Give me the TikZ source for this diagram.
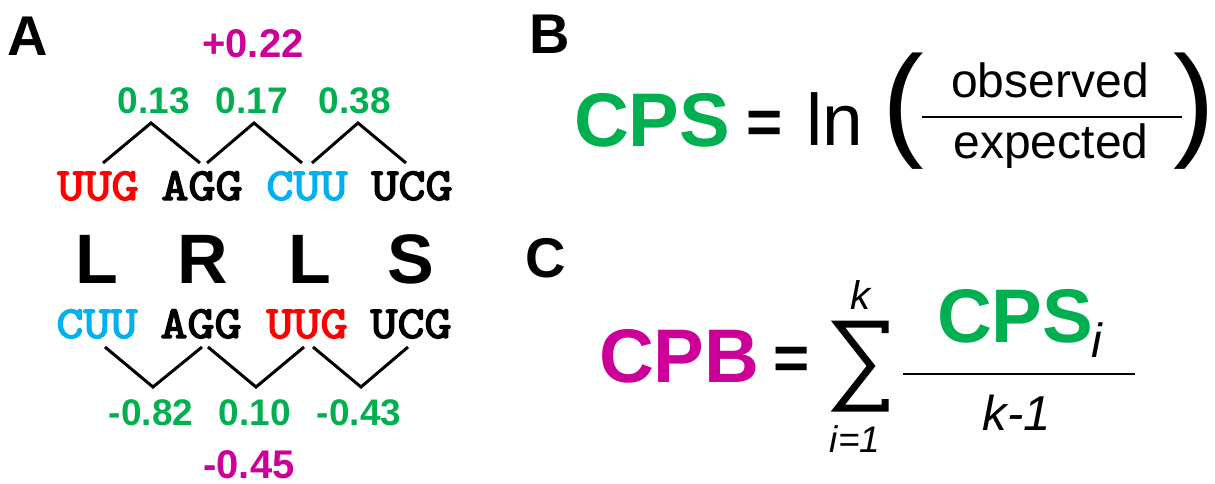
\documentclass[tikz,border=0pt]{standalone}
\usepackage{fontspec}
\setmainfont{Liberation Sans}
\newfontfamily\monof{lmmono10-regular.otf}[FakeBold=3]
\definecolor{cgreen}{RGB}{0,176,80}
\definecolor{cmag}{RGB}{204,0,153}
\definecolor{cred}{RGB}{255,0,0}
\definecolor{cblue}{RGB}{0,176,240}
\newcommand{\fs}[1]{\fontsize{#1}{#1}\selectfont}
\newcommand{\cod}[1]{\scalebox{1.12}[1]{#1}}
\tikzset{
  every node/.style={inner sep=0pt, outer sep=0pt, anchor=base},
  panellab/.style={font=\fs{56}\bfseries, anchor=base west},
  mag/.style={font=\fs{40}\bfseries, text=cmag},
  grn/.style={font=\fs{37}\bfseries, text=cgreen},
  codon/.style={font=\monof\fs{46}},
  aa/.style={font=\fs{70}\bfseries},
  link/.style={line width=3pt, line cap=butt, line join=miter},
  bigbold/.style={font=\fs{76}\bfseries},
  eqsign/.style={font=\fs{62}\bfseries},
  reg/.style={font=\fs{48}},
  paren/.style={font=\fs{125}},
  frac/.style={line width=2pt},
}
\begin{document}
\begin{tikzpicture}[x=1pt,y=-1pt]
\useasboundingbox (0,0) rectangle (1215,483);
% ---------- Panel A ----------
\node[panellab] (A) at (8,55) {A};
\node[mag] (top) at (253,57) {+0.22};
\node[grn] (g1) at (154,113) {0.13};
\node[grn] (g2) at (252,113) {0.17};
\node[grn] (g3) at (355,113) {0.38};
\coordinate (t1a) at (103,163); \coordinate (t1p) at (151,123); \coordinate (t1b) at (200,163);
\coordinate (t2a) at (207,163); \coordinate (t2p) at (254,123); \coordinate (t2b) at (302,163);
\coordinate (t3a) at (312,163); \coordinate (t3p) at (358,123); \coordinate (t3b) at (406,163);
\draw[link] (t1a) -- (t1p) -- (t1b);
\draw[link] (t2a) -- (t2p) -- (t2b);
\draw[link] (t3a) -- (t3p) -- (t3b);
\node[codon, text=cred] (c1) at (98,200) {\cod{UUG}};
\node[codon] (c2) at (202,200) {\cod{AGG}};
\node[codon, text=cblue] (c3) at (307,200) {\cod{CUU}};
\node[codon] (c4) at (412,200) {\cod{UCG}};
\node[aa] (a1) at (97,283) {L};
\node[aa] (a2) at (203,283) {R};
\node[aa] (a3) at (310,283) {L};
\node[aa] (a4) at (411,283) {S};
\node[codon, text=cblue] (d1) at (97,338) {\cod{CUU}};
\node[codon] (d2) at (201,338) {\cod{AGG}};
\node[codon, text=cred] (d3) at (307,338) {\cod{UUG}};
\node[codon] (d4) at (411,338) {\cod{UCG}};
\coordinate (b1a) at (105,347); \coordinate (b1p) at (153,387); \coordinate (b1b) at (202,347);
\coordinate (b2a) at (208,347); \coordinate (b2p) at (256,387); \coordinate (b2b) at (304,347);
\coordinate (b3a) at (313,347); \coordinate (b3p) at (361,387); \coordinate (b3b) at (408,347);
\draw[link] (b1a) -- (b1p) -- (b1b);
\draw[link] (b2a) -- (b2p) -- (b2b);
\draw[link] (b3a) -- (b3p) -- (b3b);
\node[grn] (h1) at (151,425) {-0.82};
\node[grn] (h2) at (255,425) {0.10};
\node[grn] (h3) at (359,425) {-0.43};
\node[mag] (bot) at (249,478) {-0.45};
% ---------- Panel B ----------
\node[panellab] (B) at (529,53) {B};
\node[bigbold, text=cgreen, anchor=base west] (cps) at (574,146) {CPS};
\node[eqsign] (eq1) at (765,143) {=};
\node[font=\fs{73}, anchor=base west] (ln) at (806,145) {ln};
\node[paren] (lp) at (903,143) {(};
\node[paren] (rp) at (1194,143) {)};
\node[reg] (obs) at (1050,97) {observed};
\node[reg] (exp) at (1051,158) {expected};
\coordinate (f1a) at (922,117); \coordinate (f1b) at (1182,117);
\draw[frac] (f1a) -- (f1b);
% ---------- Panel C ----------
\node[panellab] (C) at (525,277) {C};
\node[bigbold, text=cmag, anchor=base west] (cpb) at (599,382) {CPB};
\node[eqsign] (eq2) at (792,379) {=};
\draw[line width=7pt, line join=miter, miter limit=10]
  (885,333) -- (885,324) -- (838,324) -- (871,366) -- (838,408) -- (885,408) -- (885,399);
\node[font=\fs{40}\itshape] (kk) at (860,309) {k};
\node[font=\fs{37}\itshape] (i1) at (855,452) {i=1};
\node[bigbold, text=cgreen, anchor=base west] (cpsi) at (937,342) {CPS};
\node[font=\fs{48}\itshape, anchor=base west] (isub) at (1091,357) {i};
\coordinate (f2a) at (903,374); \coordinate (f2b) at (1135,374);
\draw[line width=2.5pt] (f2a) -- (f2b);
\node[font=\fs{49}\itshape] (km1) at (1017,430) {k-1};
\end{tikzpicture}
\end{document}
